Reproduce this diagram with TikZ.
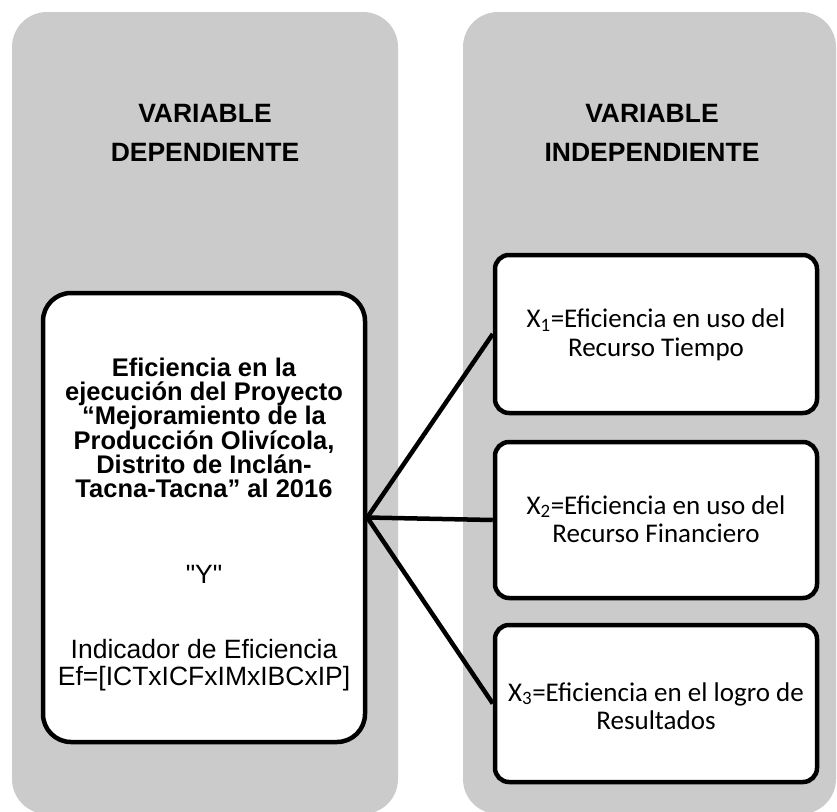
\documentclass[tikz,border=0pt]{standalone}
\usepackage{fontspec}
\setmainfont{Liberation Sans}
\newfontfamily\calfont{Carlito}
\definecolor{panelgray}{RGB}{203,203,203}
\begin{document}
\begin{tikzpicture}[x=1pt,y=-1pt,
  panel/.style={fill=panelgray, rounded corners=35pt, inner sep=0pt, minimum width=#1},
  title/.style={font=\fontsize{26.5}{39}\selectfont\bfseries, align=center},
  vbox/.style={draw=black, fill=white, line width=4.5pt, rounded corners=#1, inner sep=0pt},
  xtext/.style={font=\calfont\fontsize{27}{28.5}\selectfont, align=center},
  conn/.style={line width=4.5pt}]
\useasboundingbox (0,0) rectangle (837,811);
% panels
\node[panel=386pt, minimum height=802pt] (pl) at (205,413) {};
\node[panel=373pt, minimum height=802pt] (pr) at (649.5,413) {};
% titles
\node[title] (tl) at (205,133) {VARIABLE\\DEPENDIENTE};
\node[title] (tr) at (652,133) {VARIABLE\\INDEPENDIENTE};
% dependent box
\node[vbox=28pt, minimum width=322pt, minimum height=449pt] (dep) at (204,517.5) {};
\node[font=\fontsize{25.5}{24.3}\selectfont\bfseries, align=center] (dept) at (204,428)
  {Eficiencia en la\\ejecución del Proyecto\\“Mejoramiento de la\\Producción Olivícola,\\Distrito de Inclán-\\Tacna-Tacna” al 2016};
\node[font=\fontsize{26.5}{28}\selectfont] (ytx) at (204,574) {\textquotedbl Y\textquotedbl};
\node[font=\fontsize{26.5}{27}\selectfont, align=center] (ind) at (204,665) {Indicador de Eficiencia\\Ef=[ICTxICFxIMxIBCxIP]};
% independent boxes
\node[vbox=14pt, minimum width=322pt, minimum height=158pt] (x1) at (656,334) {};
\node[vbox=14pt, minimum width=322pt, minimum height=156pt] (x2) at (656,520) {};
\node[vbox=14pt, minimum width=322pt, minimum height=157pt] (x3) at (656,703.5) {};
\node[xtext] (x1t) at (656,335) {X\textsubscript{1}=Eficiencia en uso del\\Recurso Tiempo};
\node[xtext] (x2t) at (656,519) {X\textsubscript{2}=Eficiencia en uso del\\Recurso Financiero};
\node[xtext] (x3t) at (656,706) {X\textsubscript{3}=Eficiencia en el logro de\\Resultados};
% connectors
\draw[conn] (dep.east) -- (x1.west);
\draw[conn] (dep.east) -- (x2.west);
\draw[conn] (dep.east) -- (x3.west);
\end{tikzpicture}
\end{document}
